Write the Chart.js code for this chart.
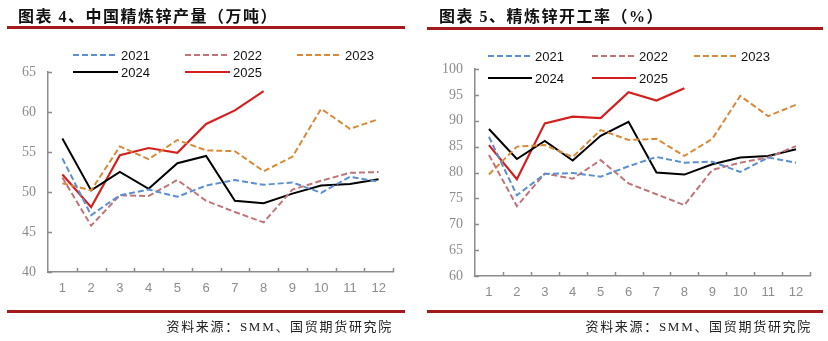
<!DOCTYPE html>
<html>
<head>
<meta charset="utf-8">
<script src="https://cdn.jsdelivr.net/npm/chart.js@4.4.1/dist/chart.umd.min.js"></script>
<style>
    body { margin: 0; background: #fff; }
    #page { position: relative; width: 828px; height: 341px; overflow: hidden; }
    .box { position: absolute; top: 0; width: 414px; height: 341px; }
    .title { position: absolute; top: 3px; font: bold 16px "Liberation Serif", "Noto Sans CJK SC", serif; letter-spacing: 1.5px; color: #111; white-space: nowrap; }
    .rule { position: absolute; height: 3px; background: #a3191c; }
    .source { position: absolute; top: 316px; font: 13px "Liberation Serif", "Noto Sans CJK SC", serif; letter-spacing: 1.7px; color: #222; white-space: nowrap; text-align: right; }
</style>
</head>
<body>
<div id="page">
    <div class="box" style="left:0"><canvas id="outputChart" width="414" height="341"></canvas></div>
    <div class="box" style="left:414px"><canvas id="rateChart" width="414" height="341"></canvas></div>

    <div class="title" style="left:18px">图表 4、中国精炼锌产量（万吨）</div>
    <div class="rule" style="left:7px; width:398px; top:26px"></div>
    <div class="rule" style="left:7px; width:398px; top:310px"></div>
    <div class="source" style="right:435px">资料来源：SMM、国贸期货研究院</div>

    <div class="title" style="left:439px">图表 5、精炼锌开工率（%）</div>
    <div class="rule" style="left:427px; width:396px; top:27px"></div>
    <div class="rule" style="left:427px; width:396px; top:310px"></div>
    <div class="source" style="right:16px">资料来源：SMM、国贸期货研究院</div>
</div>

<script>
// months on the x axis
const months = ['1', '2', '3', '4', '5', '6', '7', '8', '9', '10', '11', '12'];
const years = ['2021', '2022', '2023', '2024', '2025'];

// chart 4: refined zinc output (10k t)
const output2021 = [54.2, 47.1, 49.6, 50.3, 49.4, 50.8, 51.5, 50.9, 51.2, 49.9, 51.9, 51.3];
const output2022 = [51.8, 45.8, 49.6, 49.5, 51.5, 48.9, 47.5, 46.2, 50.3, 51.4, 52.4, 52.5];
const output2023 = [51.1, 50.2, 55.7, 54.1, 56.5, 55.2, 55.1, 52.6, 54.4, 60.4, 57.9, 59.1];
const output2024 = [56.7, 50.2, 52.5, 50.4, 53.6, 54.5, 48.9, 48.6, 49.8, 50.8, 51.0, 51.6];
const output2025 = [52.2, 48.1, 54.6, 55.5, 54.9, 58.5, 60.2, 62.6];
const outputTicks = [40, 45, 50, 55, 60, 65];

// chart 5: refined zinc operating rate (%)
const rate2021 = [86.9, 75.6, 79.7, 79.9, 79.2, 81.2, 83.0, 81.9, 82.1, 80.1, 82.9, 81.9];
const rate2022 = [83.4, 73.5, 79.8, 78.8, 82.4, 77.9, 75.8, 73.7, 80.5, 81.9, 82.9, 85.1];
const rate2023 = [79.6, 85.0, 85.3, 83.0, 88.2, 86.3, 86.5, 83.2, 86.5, 94.8, 90.9, 93.1];
const rate2024 = [88.4, 82.6, 86.1, 82.3, 87.1, 89.8, 80.0, 79.6, 81.6, 82.9, 83.2, 84.5];
const rate2025 = [85.3, 78.7, 89.5, 90.8, 90.5, 95.5, 93.9, 96.3];
const rateTicks = [60, 65, 70, 75, 80, 85, 90, 95, 100];

var lineStyles = [
    { color: '#5b8fd0', dash: [6, 3], width: 2 },
    { color: '#c07478', dash: [6, 3], width: 2 },
    { color: '#d98a38', dash: [6, 3], width: 2 },
    { color: '#000000', dash: [], width: 2 },
    { color: '#d41f1f', dash: [], width: 2.2 }
];

function makeDatasets(seriesList) {
    var sets = [];
    for (var i = 0; i < seriesList.length; i++) {
        sets.push({
            label: years[i],
            data: seriesList[i],
            borderColor: lineStyles[i].color,
            borderDash: lineStyles[i].dash,
            borderWidth: lineStyles[i].width,
            pointRadius: 0,
            tension: 0,
            fill: false
        });
    }
    return sets;
}

// legend drawn in a 3-column grid, like the original
var gridLegend = {
    id: 'gridLegend',
    afterDraw: function(chart) {
        var opts = chart.options.plugins.gridLegend;
        var ctx = chart.ctx;
        var sets = chart.data.datasets;
        ctx.save();
        ctx.font = '13px "Liberation Sans", Arial, sans-serif';
        ctx.textBaseline = 'middle';
        for (var i = 0; i < sets.length; i++) {
            var x = opts.cols[i % 3];
            var y = opts.rows[Math.floor(i / 3)];
            ctx.strokeStyle = sets[i].borderColor;
            ctx.lineWidth = sets[i].borderWidth;
            ctx.setLineDash(sets[i].borderDash);
            ctx.beginPath();
            ctx.moveTo(x, y);
            ctx.lineTo(x + opts.lineLen, y);
            ctx.stroke();
            ctx.setLineDash([]);
            ctx.fillStyle = '#111';
            ctx.fillText(sets[i].label, x + opts.lineLen + 3, y + 1);
        }
        ctx.restore();
    }
};

// small tick marks pointing into the plot
var innerTicks = {
    id: 'innerTicks',
    afterDraw: function(chart) {
        var ctx = chart.ctx;
        var area = chart.chartArea;
        var xs = chart.scales.x;
        var ys = chart.scales.y;
        ctx.save();
        ctx.strokeStyle = '#8c8c8c';
        ctx.lineWidth = 1.5;
        ctx.beginPath();
        for (var i = 0; i < ys.ticks.length; i++) {
            var py = Math.round(ys.getPixelForValue(ys.ticks[i].value)) + 0.5;
            ctx.moveTo(area.left, py);
            ctx.lineTo(area.left + 4, py);
        }
        for (var j = 1; j <= months.length; j++) {
            var px = Math.round(xs.getPixelForValue(j - 0.5)) + 0.5;
            ctx.moveTo(px, area.bottom);
            ctx.lineTo(px, area.bottom - 4);
        }
        ctx.stroke();
        ctx.restore();
    }
};

function makeChart(canvasId, seriesList, yTicks, layout) {
    var ctx = document.getElementById(canvasId);
    return new Chart(ctx, {
        type: 'line',
        data: {
            labels: months,
            datasets: makeDatasets(seriesList)
        },
        options: {
            responsive: false,
            animation: false,
            layout: { padding: { top: layout.top, right: layout.right, left: 0, bottom: 0 } },
            plugins: {
                legend: { display: false },
                tooltip: { enabled: false },
                gridLegend: layout.legend
            },
            scales: {
                x: {
                    offset: true,
                    grid: { drawOnChartArea: false, drawTicks: false },
                    border: { color: '#8c8c8c', width: 1.5 },
                    ticks: {
                        color: '#8c8c8c',
                        padding: 9,
                        maxRotation: 0,
                        font: { family: '"Liberation Sans", Arial, sans-serif', size: 13 }
                    },
                    afterFit: function(scale) { scale.height = layout.bottomH; }
                },
                y: {
                    min: yTicks[0],
                    max: yTicks[yTicks.length - 1],
                    grid: { drawOnChartArea: false, drawTicks: false },
                    border: { color: '#8c8c8c', width: 1.5 },
                    ticks: {
                        stepSize: yTicks[1] - yTicks[0],
                        color: '#8c8c8c',
                        padding: 12,
                        font: { family: '"Liberation Serif", "Times New Roman", serif', size: 14 }
                    },
                    afterFit: function(scale) { scale.width = layout.axisX; }
                }
            }
        },
        plugins: [gridLegend, innerTicks]
    });
}

makeChart('outputChart', [output2021, output2022, output2023, output2024, output2025], outputTicks, {
    top: 72, right: 21, bottomH: 69, axisX: 48,
    legend: { cols: [73, 185, 297], rows: [55, 72], lineLen: 45 }
});

makeChart('rateChart', [rate2021, rate2022, rate2023, rate2024, rate2025], rateTicks, {
    top: 69, right: 18, bottomH: 65, axisX: 61,
    legend: { cols: [74, 178, 280], rows: [56, 78], lineLen: 44 }
});
</script>
</body>
</html>
